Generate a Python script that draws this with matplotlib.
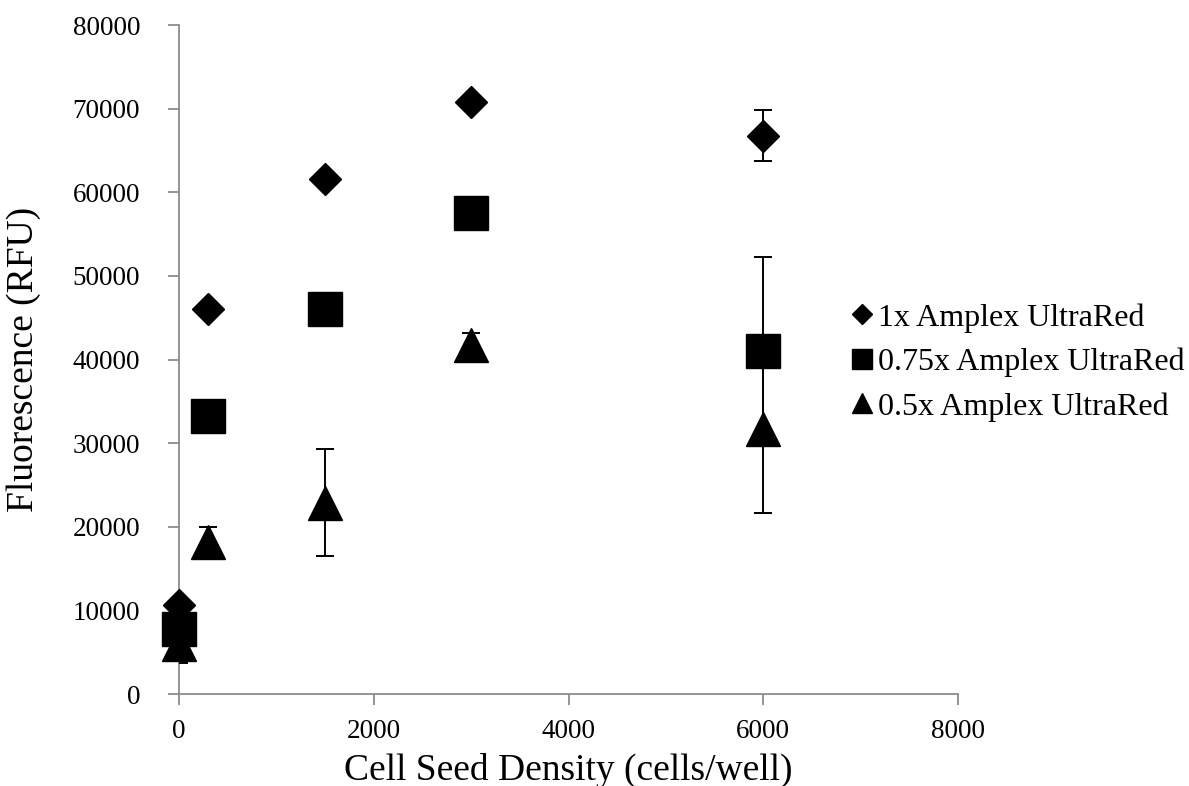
import numpy as np
import matplotlib.pyplot as plt

plt.rcParams['font.family'] = ['Liberation Serif', 'DejaVu Serif']

# cell seed density (cells/well)
density = [0, 300, 1500, 3000, 6000]

# fluorescence (RFU), mean and error per dye concentration
ur_1x = [10700, 46100, 61600, 70800, 66800]
ur_1x_err = [0, 0, 0, 0, 3100]

ur_075x = [7800, 33200, 46100, 57500, 41000]
ur_075x_err = [0, 0, 0, 0, 11300]

ur_05x = [6000, 18200, 22900, 41800, 31700]
ur_05x_err = [2300, 1800, 6400, 1400, 10000]

labels = ["1x Amplex UltraRed", "0.75x Amplex UltraRed", "0.5x Amplex UltraRed"]

fig = plt.figure(figsize=(11.89, 7.86), dpi=100)
ax = fig.add_axes([0.1506, 0.117, 0.6551, 0.851])

series = [(ur_1x, ur_1x_err, "D", 16.8),
          (ur_075x, ur_075x_err, "s", 23.8),
          (ur_05x, ur_05x_err, "^", 23.8)]

handles = []
for i, (y, err, m, ms) in enumerate(series):
    ax.errorbar(density, y, yerr=err, fmt="none", ecolor="black",
                elinewidth=1.4, capsize=6.5, capthick=1.4, zorder=2 + i * 2)
    h, = ax.plot(density, y, linestyle="none", marker=m, markersize=ms,
                 color="black", label=labels[i], zorder=3 + i * 2, clip_on=False)
    handles.append(h)

ax.set_xlim(0, 8000)
ax.set_ylim(0, 80000)
ax.set_xticks([0, 2000, 4000, 6000, 8000])
ax.set_yticks(np.arange(0, 80001, 10000))

for s in ["top", "right"]:
    ax.spines[s].set_visible(False)
for s in ["left", "bottom"]:
    ax.spines[s].set_color("#8c8c8c")
    ax.spines[s].set_linewidth(1.3)
ax.tick_params(direction="out", length=8, width=1.3, color="#8c8c8c",
               labelsize=19.5)
ax.tick_params(axis="y", pad=20)
ax.tick_params(axis="x", pad=10)

ax.set_xlabel("Cell Seed Density (cells/well)", fontsize=27)
ax.set_ylabel("Fluorescence (RFU)", fontsize=27)
ax.xaxis.set_label_coords(0.5, -0.088)
ax.yaxis.set_label_coords(-0.177, 0.5)

fig.legend(handles=handles, loc="center left", bbox_to_anchor=(0.691, 0.539),
           frameon=False, fontsize=23, markerscale=0.63, handlelength=0.7,
           handletextpad=0.16, labelspacing=0.47)

fig.savefig("out.png", dpi=100)
